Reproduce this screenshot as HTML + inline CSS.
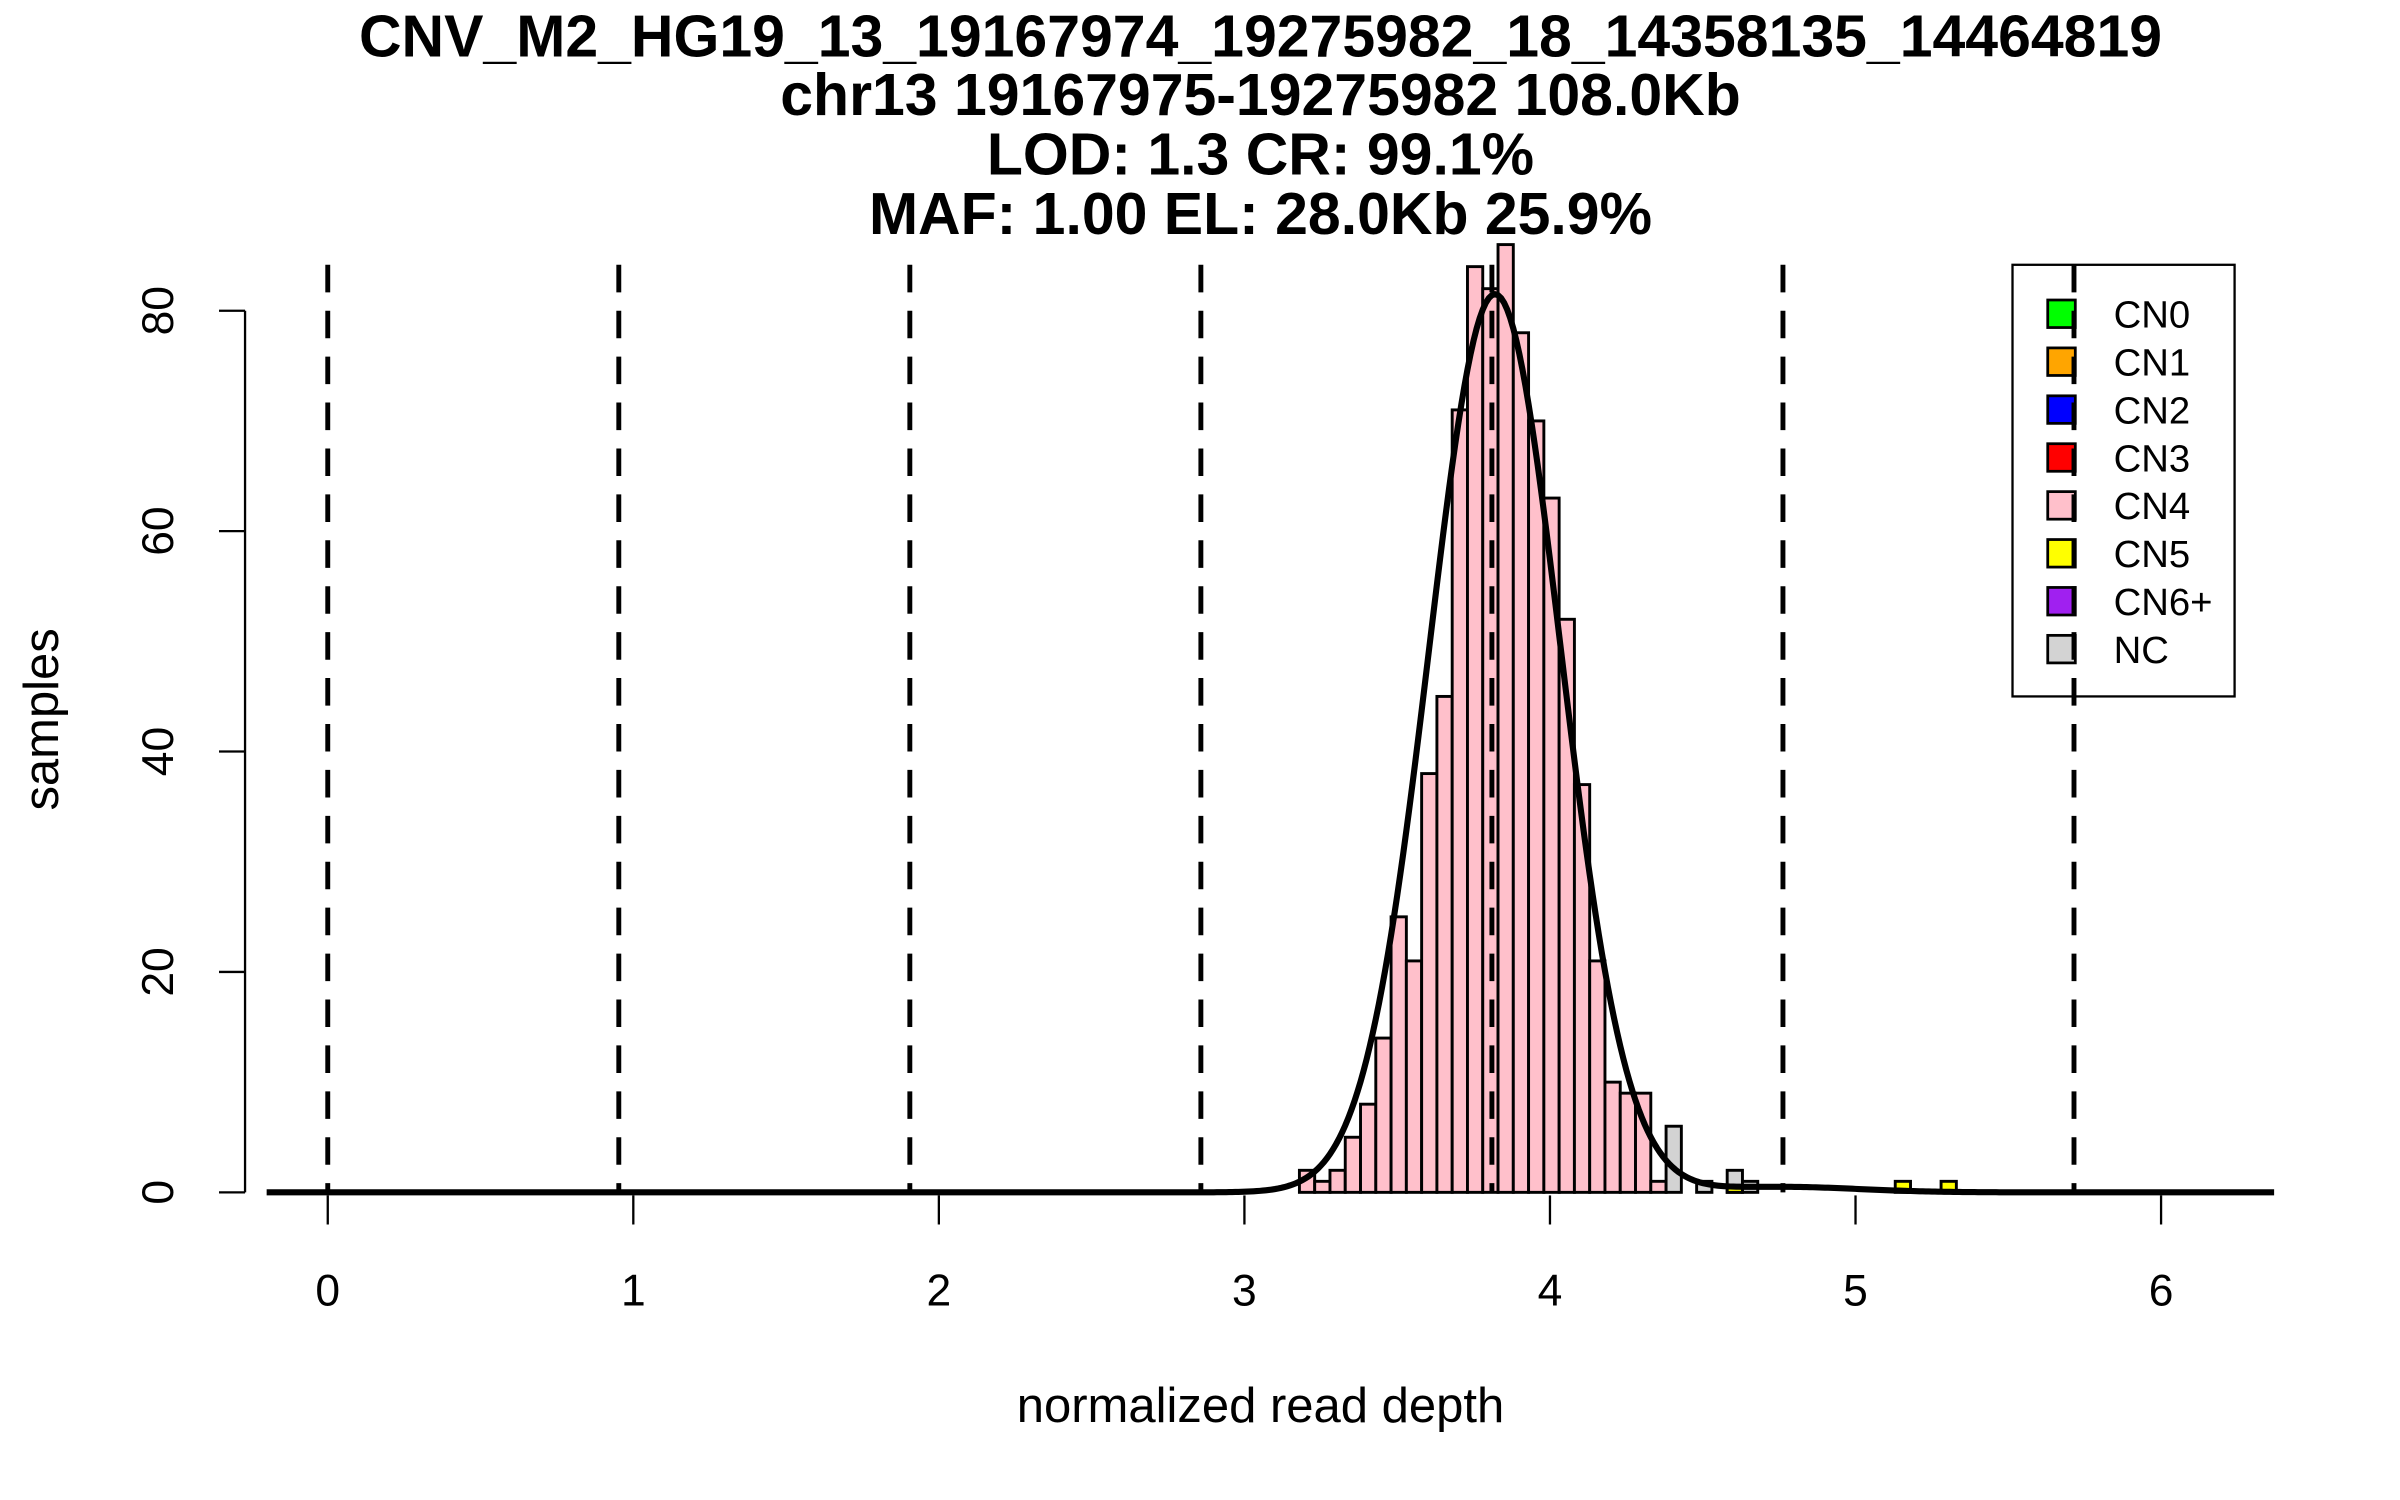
<!DOCTYPE html>
<html><head><meta charset="utf-8"><style>
html,body{margin:0;padding:0;background:#fff;}
svg{display:block;font-family:"Liberation Sans",Arial,sans-serif;}
</style></head><body>
<svg id="chart" width="2400" height="1500" viewBox="0 0 1567 980" preserveAspectRatio="none" xmlns="http://www.w3.org/2000/svg">
<rect width="1567" height="980" fill="#fff"/>
<g font-weight="bold" font-size="38.5" text-anchor="middle" fill="#000">
<text x="823" y="37">CNV_M2_HG19_13_19167974_19275982_18_14358135_14464819</text>
<text x="823" y="75">chr13 19167975-19275982 108.0Kb</text>
<text x="823" y="114">LOD: 1.3 CR: 99.1%</text>
<text x="823" y="153">MAF: 1.00 EL: 28.0Kb 25.9%</text>
</g>
<g id="bars"></g>
<g id="dashes"></g>
<g id="curve"></g>
<g id="axes"></g>
<text x="823" y="929" font-size="32" text-anchor="middle">normalized read depth</text>
<text transform="translate(38,470) rotate(-90)" font-size="32" text-anchor="middle">samples</text>
<g id="legend"></g>
</svg>
<script>
const binStarts = [3.18,3.23,3.28,3.33,3.38,3.43,3.48,3.53,3.58,3.63,3.68,3.73,3.78,3.83,3.88,3.93,3.98,4.03,4.08,4.13,4.18,4.23,4.28,4.33,4.38];
const cn4Counts = [2,1,2,5,8,14,25,21,38,45,71,84,82,86,78,70,63,52,37,21,10,9,9,1,0];
const ncBins = [4.38,4.58,4.48,4.63];
const ncCounts = [6,2,1,1];
const cn5Bins = [5.13,5.28,4.58];
const cn5Counts = [1,1,0.5];
const binWidth = 0.05;
const cnLines = [0,0.9525,1.905,2.8575,3.81,4.7625,5.715];
const xTicks = [0,1,2,3,4,5,6];
const yTicks = [0,20,40,60,80];
const fitMeans = [3.82,4.76];
const fitSds = [0.215,0.25];
const fitPeaks = [81.5,0.5];
const legendLabels = ["CN0","CN1","CN2","CN3","CN4","CN5","CN6+","NC"];
const legendColors = ["#00ff00","#ffa500","#0000ff","#ff0000","#ffc0cb","#ffff00","#a020f0","#d3d3d3"];

const NS="http://www.w3.org/2000/svg";
const X = v => 214 + v*199.5;
const Y = v => 779 - v*7.2;
function mk(tag, parent, attrs){const e=document.createElementNS(NS,tag);for(const k in attrs)e.setAttribute(k,attrs[k]);parent.appendChild(e);return e;}

const bars=document.getElementById('bars');
function drawBars(starts, counts, fill, name){
  starts.forEach((s,i)=>{
    if(counts[i]<=0) return;
    const r=mk('rect',bars,{x:X(s),y:Y(counts[i]),width:X(s+binWidth)-X(s),height:Y(0)-Y(counts[i]),fill:fill,stroke:'#000','stroke-width':1.9});
    
    
  });
}
drawBars(binStarts,cn4Counts,'#ffc0cb','bar-cn4');
drawBars(ncBins,ncCounts,'#d3d3d3','bar-nc');
drawBars(cn5Bins,cn5Counts,'#ffff00','bar-cn5');

const dashes=document.getElementById('dashes');
cnLines.forEach(v=>{
  const l=mk('line',dashes,{x1:X(v),x2:X(v),y1:173,y2:779,stroke:'#000','stroke-width':3.2,'stroke-dasharray':'18 12'});
  
  
});

const curve=document.getElementById('curve');
let d='';
for(let x=-0.2;x<=6.37;x+=0.01){
  let y=0;
  for(let k=0;k<fitMeans.length;k++){const z=(x-fitMeans[k])/fitSds[k];y+=fitPeaks[k]*Math.exp(-0.5*z*z);}
  d+=(d?'L':'M')+X(x).toFixed(2)+','+Y(y).toFixed(2);
}
const cp=mk('path',curve,{d:d,fill:'none',stroke:'#000','stroke-width':4});



const axes=document.getElementById('axes');
mk('line',axes,{x1:160,x2:160,y1:Y(80),y2:Y(0),stroke:'#000','stroke-width':1.5});
yTicks.forEach(v=>{
  mk('line',axes,{x1:143,x2:160,y1:Y(v),y2:Y(v),stroke:'#000','stroke-width':1.5});
  const t=mk('text',axes,{transform:`translate(113,${Y(v)}) rotate(-90)`,'font-size':29,'text-anchor':'middle'});
  t.textContent=v;
  
  
});
xTicks.forEach(v=>{
  mk('line',axes,{x1:X(v),x2:X(v),y1:781,y2:800,stroke:'#000','stroke-width':1.5});
  const t=mk('text',axes,{x:X(v),y:853,'font-size':29,'text-anchor':'middle'});
  t.textContent=v;
  
  
});

const lg=document.getElementById('legend');
mk('rect',lg,{x:1314,y:173,width:145,height:282,fill:'#fff',stroke:'#000','stroke-width':1.5});
legendLabels.forEach((lab,i)=>{
  const y=205+i*31.3;
  const g=mk('g',lg,{});
  
  
  mk('rect',g,{x:1337,y:y-9,width:18,height:18,fill:legendColors[i],stroke:'#000','stroke-width':1.8});
  const t=mk('text',g,{x:1380,y:y+9,'font-size':25});
  t.textContent=lab;
});
mk('line',lg,{x1:X(cnLines[6]),x2:X(cnLines[6]),y1:173,y2:455,stroke:'#000','stroke-width':3.2,'stroke-dasharray':'18 12'});
</script>
</body></html>
